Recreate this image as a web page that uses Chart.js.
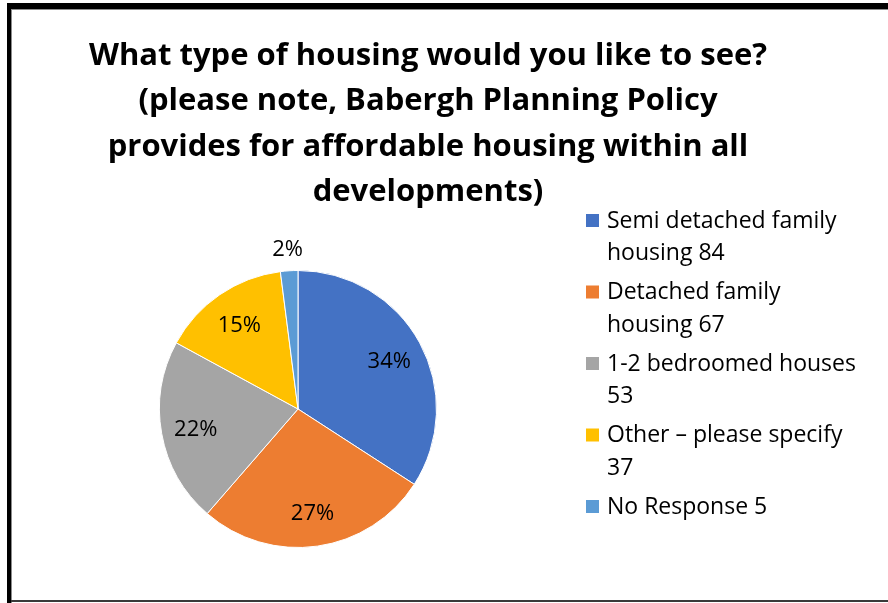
<!DOCTYPE html>
<html>
<head>
<meta charset="utf-8">
<script src="https://cdn.jsdelivr.net/npm/chart.js@4"></script>
<style>
  html, body { margin: 0; padding: 0; background: #fff; }
  #wrap { width: 888px; height: 603px; }
</style>
</head>
<body>
<div id="wrap"><canvas id="pieChart" width="888" height="603"></canvas></div>
<script>
// Housing survey pie
const categories = ['Semi detached family housing', 'Detached family housing', '1-2 bedroomed houses', 'Other – please specify', 'No Response']
const values = [84, 67, 53, 37, 5]
const colors = ['#4472C4', '#ED7D31', '#A5A5A5', '#FFC000', '#5B9BD5']
const titleLines = [
	'What type of housing would you like to see?',
	'(please note, Babergh Planning Policy',
	'provides for affordable housing within all',
	'developments)',
]

const FONT = '"Open Sans", sans-serif'

// wrap legend text to a max width
function wrap(ctx, text, maxWidth) {
	const words = text.split(' ')
	const lines = []
	let line = ''
	words.forEach((w) => {
		const test = line ? line + ' ' + w : w
		if (ctx.measureText(test).width > maxWidth && line) {
			lines.push(line)
			line = w
		} else {
			line = test
		}
	})
	lines.push(line)
	return lines
}

const framePlugin = {
	id: 'frame',
	beforeDraw(chart) {
		const ctx = chart.ctx
		ctx.save()
		ctx.fillStyle = '#fff'
		ctx.fillRect(0, 0, chart.width, chart.height)
		// black frame top + left, thin grey inner line, bottom line
		ctx.fillStyle = '#000'
		ctx.fillRect(7, 3, chart.width - 7, 6)
		ctx.fillRect(7, 3, 5, chart.height - 3)
		ctx.fillStyle = '#8c8c8c'
		ctx.fillRect(12, 9, chart.width - 12, 1)
		ctx.fillRect(11, 9, 1, chart.height - 9)
		ctx.fillStyle = '#3a3a3a'
		ctx.fillRect(11, 600, chart.width - 11, 2)
		ctx.restore()
	},
}

const textPlugin = {
	id: 'texts',
	afterDraw(chart) {
		const ctx = chart.ctx
		ctx.save()
		// title
		ctx.fillStyle = '#000'
		ctx.textAlign = 'center'
		ctx.textBaseline = 'middle'
		ctx.font = 'bold 31px ' + FONT
		titleLines.forEach((t, i) => ctx.fillText(t, 428, 56 + i * 45.5))

		// percentage labels
		const total = values.reduce((a, b) => a + b, 0)
		const meta = chart.getDatasetMeta(0)
		ctx.font = '22px ' + FONT
		meta.data.forEach((arc, i) => {
			const pct = Math.round((values[i] / total) * 100)
			const mid = (arc.startAngle + arc.endAngle) / 2
			const k = pct < 5 ? 1.17 : 0.75
			const x = arc.x + Math.cos(mid) * arc.outerRadius * k
			const y = arc.y + Math.sin(mid) * arc.outerRadius * k + 2
			ctx.fillText(pct + '%', x, y)
		})

		// legend
		ctx.textAlign = 'left'
		ctx.font = '23px ' + FONT
		let y = 221
		categories.forEach((c, i) => {
			const lines = wrap(ctx, c + ' ' + values[i], 255)
			ctx.fillStyle = colors[i]
			ctx.fillRect(586, y - 7, 13, 13)
			ctx.fillStyle = '#000'
			lines.forEach((l, j) => ctx.fillText(l, 607, y + j * 32.5))
			y += 71.5
		})
		ctx.restore()
	},
}

const pie = new Chart(document.getElementById('pieChart').getContext('2d'), {
	type: 'pie',
	data: {
		labels: categories,
		datasets: [
			{
				data: values,
				backgroundColor: colors,
				borderColor: '#fff',
				borderWidth: 1,
			},
		],
	},
	options: {
		responsive: false,
		animation: false,
		layout: {
			padding: { left: 159, right: 451, top: 270, bottom: 55 },
		},
		plugins: {
			legend: { display: false },
			title: { display: false },
			tooltip: { enabled: false },
		},
	},
	plugins: [framePlugin, textPlugin],
})
</script>
</body>
</html>
